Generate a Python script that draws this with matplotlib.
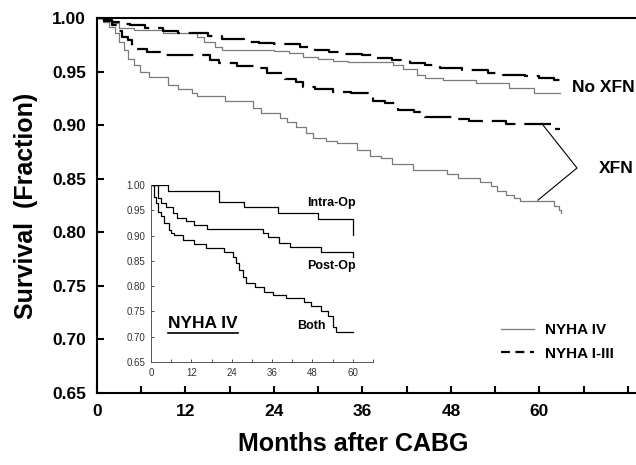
import matplotlib
matplotlib.use("Agg")
import matplotlib.pyplot as plt
import matplotlib.ticker as m_tick
from matplotlib.lines import Line2D

plt.rcParams['font.family'] = ['Liberation Sans', 'DejaVu Sans']

# main panel: Kaplan-Meier steps (months, survival)
iv_noxfn_t = [0, 1.0, 2.0, 3.0, 5.0, 9.0, 13.5, 14.5, 16.0, 17.0, 24.0, 26.0, 28.0, 30.0, 32.0,
              34.0, 40.2, 41.5, 43.4, 44.5, 46.9, 51.4, 55.9, 59.2, 62.8]
iv_noxfn_s = [1.0, 0.998, 0.995, 0.991, 0.989, 0.986, 0.982, 0.978, 0.973, 0.970, 0.969, 0.967, 0.964, 0.962, 0.960,
              0.959, 0.956, 0.952, 0.947, 0.944, 0.942, 0.939, 0.935, 0.930, 0.930]

i3_noxfn_t = [0, 1.0, 2.0, 3.0, 4.5, 6.5, 9.0, 11.0, 15.0, 17.0, 20.0, 22.0, 24.0, 27.5, 29.5, 31.5,
              33.5, 36.0, 38.0, 40.0, 42.5, 44.5, 46.5, 49.5, 53.0, 55.0, 58.0, 60.0, 62.0, 62.8]
i3_noxfn_s = [1.0, 0.998, 0.996, 0.994, 0.993, 0.991, 0.988, 0.986, 0.983, 0.980, 0.978, 0.977, 0.976, 0.973, 0.970, 0.968,
              0.966, 0.965, 0.963, 0.961, 0.958, 0.956, 0.953, 0.951, 0.949, 0.947, 0.946, 0.944, 0.942, 0.942]

iv_xfn_t = [0, 0.8, 1.6, 2.4, 3.0, 3.6, 4.2, 5.0, 5.8, 7.0, 9.6, 11.0, 12.9, 13.5, 17.4, 21.2, 22.3,
            24.8, 25.8, 27.0, 28.3, 29.3, 31.0, 32.5, 35.3, 37.0, 38.5, 40.0, 42.9, 47.5, 49.0, 52.0,
            53.5, 54.3, 55.5, 56.5, 57.4, 62.0, 62.6, 62.9]
iv_xfn_s = [1.0, 0.996, 0.992, 0.986, 0.978, 0.970, 0.962, 0.956, 0.950, 0.945, 0.937, 0.934, 0.930, 0.927, 0.923, 0.916, 0.911,
            0.907, 0.903, 0.898, 0.893, 0.888, 0.885, 0.883, 0.877, 0.871, 0.869, 0.864, 0.858, 0.854, 0.851, 0.847,
            0.843, 0.839, 0.835, 0.832, 0.829, 0.825, 0.821, 0.818]

i3_xfn_t = [0, 1.0, 2.0, 2.8, 3.4, 4.2, 4.8, 5.2, 6.8, 8.8, 15.3, 16.5, 19.0, 21.5, 23.0, 25.5, 27.0,
            28.0, 29.5, 32.0, 34.5, 37.5, 39.0, 40.8, 43.0, 44.5, 48.5, 50.5, 55.5, 62.2, 62.8]
i3_xfn_s = [1.0, 0.997, 0.993, 0.988, 0.982, 0.979, 0.973, 0.971, 0.968, 0.965, 0.961, 0.958, 0.955, 0.953, 0.949, 0.943, 0.940,
            0.936, 0.934, 0.931, 0.930, 0.923, 0.921, 0.914, 0.912, 0.908, 0.906, 0.904, 0.901, 0.896, 0.896]

# inset: NYHA IV subgroups
intra_t = [0, 5.2, 20.3, 27.8, 37.7, 49.6, 60.0]
intra_s = [1.0, 0.989, 0.967, 0.956, 0.945, 0.933, 0.901]

post_t = [0, 2.0, 3.0, 4.5, 6.6, 7.6, 10.4, 12.9, 16.6, 33.2, 34.7, 38.2, 41.2, 50.6, 60.0]
post_s = [1.0, 0.974, 0.964, 0.956, 0.945, 0.934, 0.928, 0.921, 0.913, 0.905, 0.898, 0.886, 0.877, 0.868, 0.858]

both_t = [0, 1.0, 1.5, 2.0, 3.0, 4.0, 5.5, 6.0, 6.9, 9.4, 12.9, 16.4, 21.8, 24.3, 25.3, 26.3, 27.3,
          28.3, 30.8, 33.7, 36.2, 40.2, 45.6, 47.6, 50.6, 52.6, 54.1, 55.1, 60.0]
both_s = [1.0, 0.977, 0.964, 0.947, 0.938, 0.924, 0.911, 0.905, 0.901, 0.891, 0.883, 0.875, 0.868, 0.858, 0.845, 0.832, 0.818,
          0.807, 0.799, 0.789, 0.783, 0.776, 0.768, 0.760, 0.750, 0.740, 0.720, 0.709, 0.709]

x_major = [0, 12, 24, 36, 48, 60]

GRAY = '#7a7a7a'
DASH = (12, 4)

fig = plt.figure(figsize=(6.36, 4.65), dpi=100)
ax = fig.add_axes([0.1525, 0.1548, 0.8475, 0.8065])

ax.plot(iv_noxfn_t, iv_noxfn_s, drawstyle='steps-post', color=GRAY, lw=0.9)
ax.plot(iv_xfn_t, iv_xfn_s, drawstyle='steps-post', color=GRAY, lw=0.9)
ax.plot(i3_noxfn_t, i3_noxfn_s, drawstyle='steps-post', color='black', lw=1.6, dashes=DASH)
ax.plot(i3_xfn_t, i3_xfn_s, drawstyle='steps-post', color='black', lw=1.6, dashes=DASH)

ax.set_xlim(0, 73.1)
ax.set_ylim(0.65, 1.0)
ax.xaxis.set_major_locator(m_tick.FixedLocator(x_major))
ax.xaxis.set_minor_locator(m_tick.MultipleLocator(6))
ax.yaxis.set_major_locator(m_tick.MultipleLocator(0.05))
ax.yaxis.set_major_formatter(m_tick.FormatStrFormatter('%.2f'))
ax.tick_params(which='both', direction='in', length=5, width=1.5, labelsize=12.5, pad=8)
for lab in ax.get_xticklabels() + ax.get_yticklabels():
    lab.set_fontweight('bold')
ax.spines['right'].set_visible(False)
for s in ['left', 'bottom', 'top']:
    ax.spines[s].set_linewidth(1.5)

ax.set_ylabel('Survival  (Fraction)', fontsize=18, fontweight='bold')
ax.yaxis.set_label_coords(-0.11, 0.5)
ax.set_xlabel('Months after CABG', fontsize=18, fontweight='bold')
ax.xaxis.set_label_coords(0.476, -0.105)

ax.text(64.4, 0.935, 'No XFN', fontsize=12.5, fontweight='bold', va='center')
ax.text(68.0, 0.860, 'XFN', fontsize=12.5, fontweight='bold', va='center')
bracket_x = [60.5, 65.1, 59.8]
bracket_y = [0.900, 0.860, 0.830]
ax.plot(bracket_x, bracket_y, color='black', lw=0.8)

handles = [Line2D([], [], color=GRAY, lw=0.9),
           Line2D([], [], color='black', lw=1.6, dashes=(4, 2.5))]
leg = ax.legend(handles, ['NYHA IV', 'NYHA I-III'], loc='upper left',
                bbox_to_anchor=(0.775, 0.322), bbox_transform=fig.transFigure,
                frameon=False, handlelength=2.2, handletextpad=0.7, labelspacing=0.65,
                prop={'weight': 'bold', 'size': 11}, borderpad=0)

# inset
ins = fig.add_axes([0.2374, 0.2215, 0.349, 0.3806])
ins.plot(intra_t, intra_s, drawstyle='steps-post', color='black', lw=0.9)
ins.plot(post_t, post_s, drawstyle='steps-post', color='black', lw=0.9)
ins.plot(both_t, both_s, drawstyle='steps-post', color='black', lw=0.9)
ins.set_xlim(0, 66)
ins.set_ylim(0.65, 1.0)
ins.xaxis.set_major_locator(m_tick.FixedLocator(x_major))
ins.xaxis.set_minor_locator(m_tick.MultipleLocator(6))
ins.yaxis.set_major_locator(m_tick.MultipleLocator(0.05))
ins.yaxis.set_major_formatter(m_tick.FormatStrFormatter('%.2f'))
ins.tick_params(which='both', direction='in', length=2, width=0.6, labelsize=7, colors='#333333', pad=4)
ins.spines['right'].set_visible(False)
ins.spines['top'].set_visible(False)
for s in ['left', 'bottom']:
    ins.spines[s].set_linewidth(0.7)
    ins.spines[s].set_color('#555555')
ins.patch.set_alpha(0)

ins.text(46.4, 0.964, 'Intra-Op', fontsize=9, fontweight='bold', va='center')
ins.text(46.4, 0.840, 'Post-Op', fontsize=9, fontweight='bold', va='center')
ins.text(43.5, 0.721, 'Both', fontsize=9, fontweight='bold', va='center')
ins.text(5, 0.726, 'NYHA IV', fontsize=12.5, fontweight='bold', va='center')
ins.plot([5, 26], [0.707, 0.707], color='black', lw=1.2)

fig.savefig('out.png', dpi=100)
